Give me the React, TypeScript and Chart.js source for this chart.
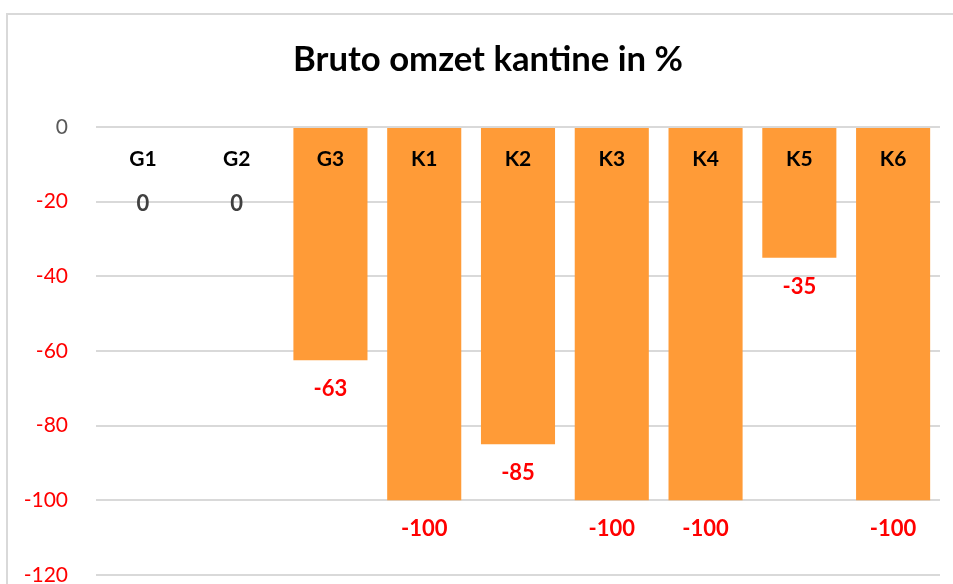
import React, { useEffect, useRef } from "react";
import { Chart, registerables } from "chart.js";

Chart.register(...registerables);

const categories = ["G1", "G2", "G3", "K1", "K2", "K3", "K4", "K5", "K6"];
const values = [0, 0, -62.5, -100, -85, -100, -100, -35, -100];
const yTicks = [0, -20, -40, -60, -80, -100, -120];
const titleText = "Bruto omzet kantine in %";

const FONT = "Lato, 'Noto Sans', sans-serif";
const BAR_COLOR = "#FF9B37";
const GRID_COLOR = "#D9D9D9";

export default function App() {
  const ref = useRef<HTMLCanvasElement>(null);

  useEffect(() => {
    document.body.style.margin = "0";
    const canvas = ref.current;
    if (!canvas) return;

    const framePlugin = {
      id: "frame",
      beforeDraw(chart: any) {
        const ctx = chart.ctx;
        ctx.save();
        ctx.fillStyle = "#FFFFFF";
        ctx.fillRect(0, 0, chart.width, chart.height);
        ctx.fillStyle = GRID_COLOR;
        ctx.fillRect(6, 13, 2, chart.height);
        ctx.fillRect(6, 13, chart.width, 2);
        // chart title (the full Excel chart frame extends past the crop, so its centre is off-canvas centre)
        ctx.fillStyle = "#000000";
        ctx.font = `bold 34.7px ${FONT}`;
        ctx.textAlign = "center";
        ctx.textBaseline = "middle";
        ctx.fillText(titleText, 488, 60);
        ctx.restore();
      },
    };

    const labelPlugin = {
      id: "barLabels",
      afterDatasetsDraw(chart: any) {
        const ctx = chart.ctx;
        const meta = chart.getDatasetMeta(0);
        const y = chart.scales.y;
        const zeroPx = y.getPixelForValue(0);
        const minLabelPx = y.getPixelForValue(-20);
        ctx.save();
        ctx.textAlign = "center";
        ctx.textBaseline = "middle";
        meta.data.forEach((bar: any, i: number) => {
          ctx.font = `bold 21px ${FONT}`;
          ctx.fillStyle = "#000000";
          ctx.fillText(categories[i], bar.x, zeroPx + 32);
          const v = values[i];
          ctx.font = `bold 22px ${FONT}`;
          ctx.fillStyle = v < 0 ? "#FF0000" : "#404040";
          ctx.fillText(v.toFixed(0), bar.x, Math.max(bar.y + 29, minLabelPx + 2));
        });
        ctx.restore();
      },
    };

    const chart = new Chart(canvas, {
      type: "bar",
      data: {
        labels: categories,
        datasets: [
          {
            data: values,
            backgroundColor: BAR_COLOR,
            borderWidth: 0,
            barPercentage: 0.79,
            categoryPercentage: 1,
          },
        ],
      },
      options: {
        responsive: false,
        animation: false,
        devicePixelRatio: 1,
        layout: { padding: { left: 0, right: 13, top: 127, bottom: 9 } },
        plugins: {
          legend: { display: false },
          tooltip: { enabled: false },
          title: { display: false },
        },
        scales: {
          x: {
            display: false,
            grid: { display: false },
          },
          y: {
            min: -120,
            max: 0,
            afterBuildTicks(scale: any) {
              scale.ticks = yTicks.map((v) => ({ value: v }));
            },
            afterFit(scale: any) {
              scale.width = 96;
              scale.paddingTop = 0;
              scale.paddingBottom = 0;
            },
            grid: { color: GRID_COLOR, lineWidth: 2, drawTicks: false },
            border: { display: false },
            ticks: {
              padding: 28,
              color: (c: any) => (c.tick && c.tick.value === 0 ? "#595959" : "#FF0000"),
              font: { family: FONT, size: 21 },
              callback: (v: any) => String(v),
            },
          },
        },
      },
      plugins: [framePlugin, labelPlugin],
    });

    return () => chart.destroy();
  }, []);

  return (
    <div style={{ position: "relative", width: 953, height: 584 }}>
      <canvas ref={ref} width={953} height={584} />
    </div>
  );
}
